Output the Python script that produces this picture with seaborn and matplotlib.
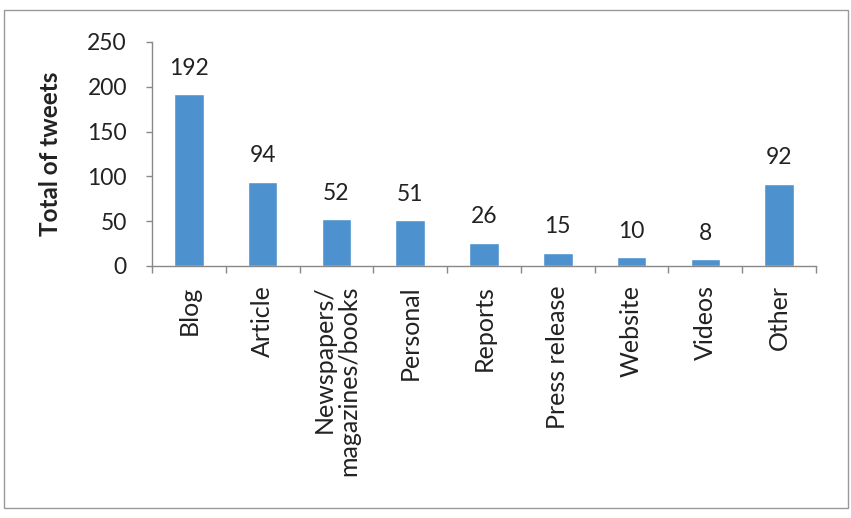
import matplotlib
matplotlib.use("Agg")
import matplotlib.pyplot as plt
import seaborn as sns
import pandas as pd
import numpy as np
from matplotlib.patches import Rectangle

categories = ["Blog", "Article", "Newspapers/\nmagazines/books", "Personal", "Reports",
              "Press release", "Website", "Videos", "Other"]
values = [192, 94, 52, 51, 26, 15, 10, 8, 92]
yticks = [0, 50, 100, 150, 200, 250]

sns.set_theme(style="white")
plt.rcParams['font.family'] = ['Lato', 'DejaVu Sans']

df = pd.DataFrame({"cat": categories, "val": values})

fig = plt.figure(figsize=(8.51, 5.18), dpi=100)
ax = fig.add_axes([152/851, 1-266/518, (816-152)/851, (266-42)/518])
sns.barplot(data=df, x="cat", y="val", color="#4d92ce", width=0.4, saturation=1, ax=ax)
for c in ax.containers:
    ax.bar_label(c, padding=11, fontsize=16.5, color="#222222")

ax.set_ylim(0, 250)
ax.set_xlim(-0.5, len(categories) - 0.5)
ax.set_yticks(yticks)
ax.set_yticklabels([str(t) for t in yticks], fontsize=16.5, color="#222222")
ax.set_ylabel("Total of tweets", fontsize=17.5, fontweight="bold", color="#222222", labelpad=18)
ax.set_xlabel("")
ax.set_xticks(range(len(categories)))
ax.set_xticklabels(categories, rotation=90, fontsize=18, color="#222222",
                   va="top", ha="center", multialignment="right", linespacing=1.05)
ax.set_xticks(np.arange(-0.5, len(categories), 1), minor=True)
ax.tick_params(axis="x", which="major", length=0, pad=14)
ax.tick_params(axis="x", which="minor", length=5, direction="out", color="#888888", width=1, bottom=True)
ax.tick_params(axis="y", length=4, direction="out", color="#888888", width=1, left=True, pad=14)
for s in ["top", "right"]:
    ax.spines[s].set_visible(False)
for s in ["left", "bottom"]:
    ax.spines[s].set_color("#888888")
    ax.spines[s].set_linewidth(1)

fig.patches.append(Rectangle((4/851, 1-508/518), (848-4)/851, (508-10)/518,
                             transform=fig.transFigure, fill=False,
                             edgecolor="#999999", linewidth=1))

fig.savefig("out.png", dpi=100)
